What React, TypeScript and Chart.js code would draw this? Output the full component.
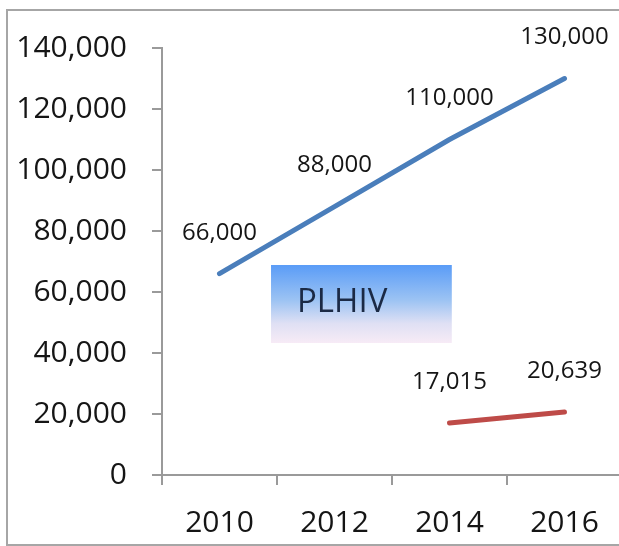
import React, { useEffect, useRef } from "react";
import { Chart, registerables } from "chart.js";

Chart.register(...registerables);

const years = ["2010", "2012", "2014", "2016"];
const plhivEstimate = [66000, 88000, 110000, 130000];
const plhivReported = [null, null, 17015, 20639];
const yTickValues = [0, 20000, 40000, 60000, 80000, 100000, 120000, 140000];
const boxLabel = "PLHIV";

const FONT = "'Open Sans', 'Liberation Sans', sans-serif";
const fmt = (v: number) => v.toLocaleString("en-US");

const labelsPlugin = {
  id: "pointLabels",
  afterDatasetsDraw(chart: any) {
    const ctx = chart.ctx;
    ctx.save();
    ctx.font = `24px ${FONT}`;
    ctx.fillStyle = "#151515";
    ctx.textAlign = "center";
    ctx.textBaseline = "middle";
    chart.data.datasets.forEach((ds: any, di: number) => {
      const meta = chart.getDatasetMeta(di);
      meta.data.forEach((pt: any, i: number) => {
        const v = ds.data[i];
        if (v == null) return;
        ctx.fillText(fmt(v), pt.x, pt.y - 41);
      });
    });
    ctx.restore();
  },
};

const boxPlugin = {
  id: "plhivBox",
  beforeDatasetsDraw(chart: any) {
    const { ctx, scales } = chart;
    const x0 = scales.x.getPixelForValue(0.448);
    const x1 = scales.x.getPixelForValue(2.02);
    const y0 = scales.y.getPixelForValue(68850);
    const y1 = scales.y.getPixelForValue(43280);
    ctx.save();
    const g = ctx.createLinearGradient(0, y0, 0, y1);
    g.addColorStop(0, "#5a9cf7");
    g.addColorStop(0.45, "#9cc3f3");
    g.addColorStop(0.75, "#dfe0f4");
    g.addColorStop(1, "#f7ebf6");
    ctx.fillStyle = g;
    ctx.fillRect(x0, y0, x1 - x0, y1 - y0);
    ctx.font = `33px ${FONT}`;
    ctx.fillStyle = "#1b2a45";
    ctx.textAlign = "left";
    ctx.textBaseline = "middle";
    ctx.fillText(boxLabel, x0 + 26, y0 + 38);
    ctx.restore();
  },
};

export default function App() {
  const ref = useRef<HTMLCanvasElement>(null);
  useEffect(() => {
    if (!ref.current) return;
    const chart = new Chart(ref.current, {
      type: "line",
      data: {
        labels: years,
        datasets: [
          {
            data: plhivEstimate,
            borderColor: "#4a7ebb",
            borderWidth: 5,
            borderCapStyle: "round",
            pointRadius: 0,
            tension: 0,
          },
          {
            data: plhivReported as any,
            borderColor: "#be4b48",
            borderWidth: 5,
            borderCapStyle: "round",
            pointRadius: 0,
            tension: 0,
          },
        ],
      },
      options: {
        animation: false,
        responsive: false,
        devicePixelRatio: 1,
        layout: { padding: { left: 0, top: 48, right: 18, bottom: 0 } },
        plugins: { legend: { display: false }, tooltip: { enabled: false } },
        scales: {
          x: {
            offset: true,
            grid: {
              offset: true,
              drawOnChartArea: false,
              drawTicks: true,
              tickLength: 10,
              color: "#9a9a9a",
              lineWidth: 2,
            },
            border: { display: true, color: "#9a9a9a", width: 2 },
            ticks: {
              padding: 20,
              color: "#151515",
              font: { family: FONT, size: 30 },
            },
            afterFit: (s: any) => {
              s.height = 71;
            },
          },
          y: {
            min: 0,
            max: 140000,
            afterBuildTicks: (s: any) => {
              s.ticks = yTickValues.map((v) => ({ value: v }));
            },
            grid: {
              drawOnChartArea: false,
              drawTicks: true,
              tickLength: 10,
              color: "#9a9a9a",
              lineWidth: 2,
            },
            border: { display: true, color: "#9a9a9a", width: 2 },
            ticks: {
              padding: 25,
              color: "#151515",
              font: { family: FONT, size: 30 },
              callback: (v: any) => fmt(Number(v)),
            },
            afterFit: (s: any) => {
              s.width = 162;
            },
          },
        },
      },
      plugins: [boxPlugin, labelsPlugin],
    });
    return () => chart.destroy();
  }, []);

  return (
    <div
      style={{
        position: "fixed",
        left: 0,
        top: 0,
        width: 619,
        height: 546,
        overflow: "hidden",
        background: "#ffffff",
      }}
    >
      <canvas
        ref={ref}
        width={640}
        height={546}
        style={{ position: "absolute", left: 0, top: 0, width: 640, height: 546 }}
      />
      <div
        style={{
          position: "absolute",
          left: 6,
          top: 9,
          width: 700,
          height: 533,
          border: "2px solid #a6a6a6",
          borderRight: "none",
          pointerEvents: "none",
        }}
      />
    </div>
  );
}
